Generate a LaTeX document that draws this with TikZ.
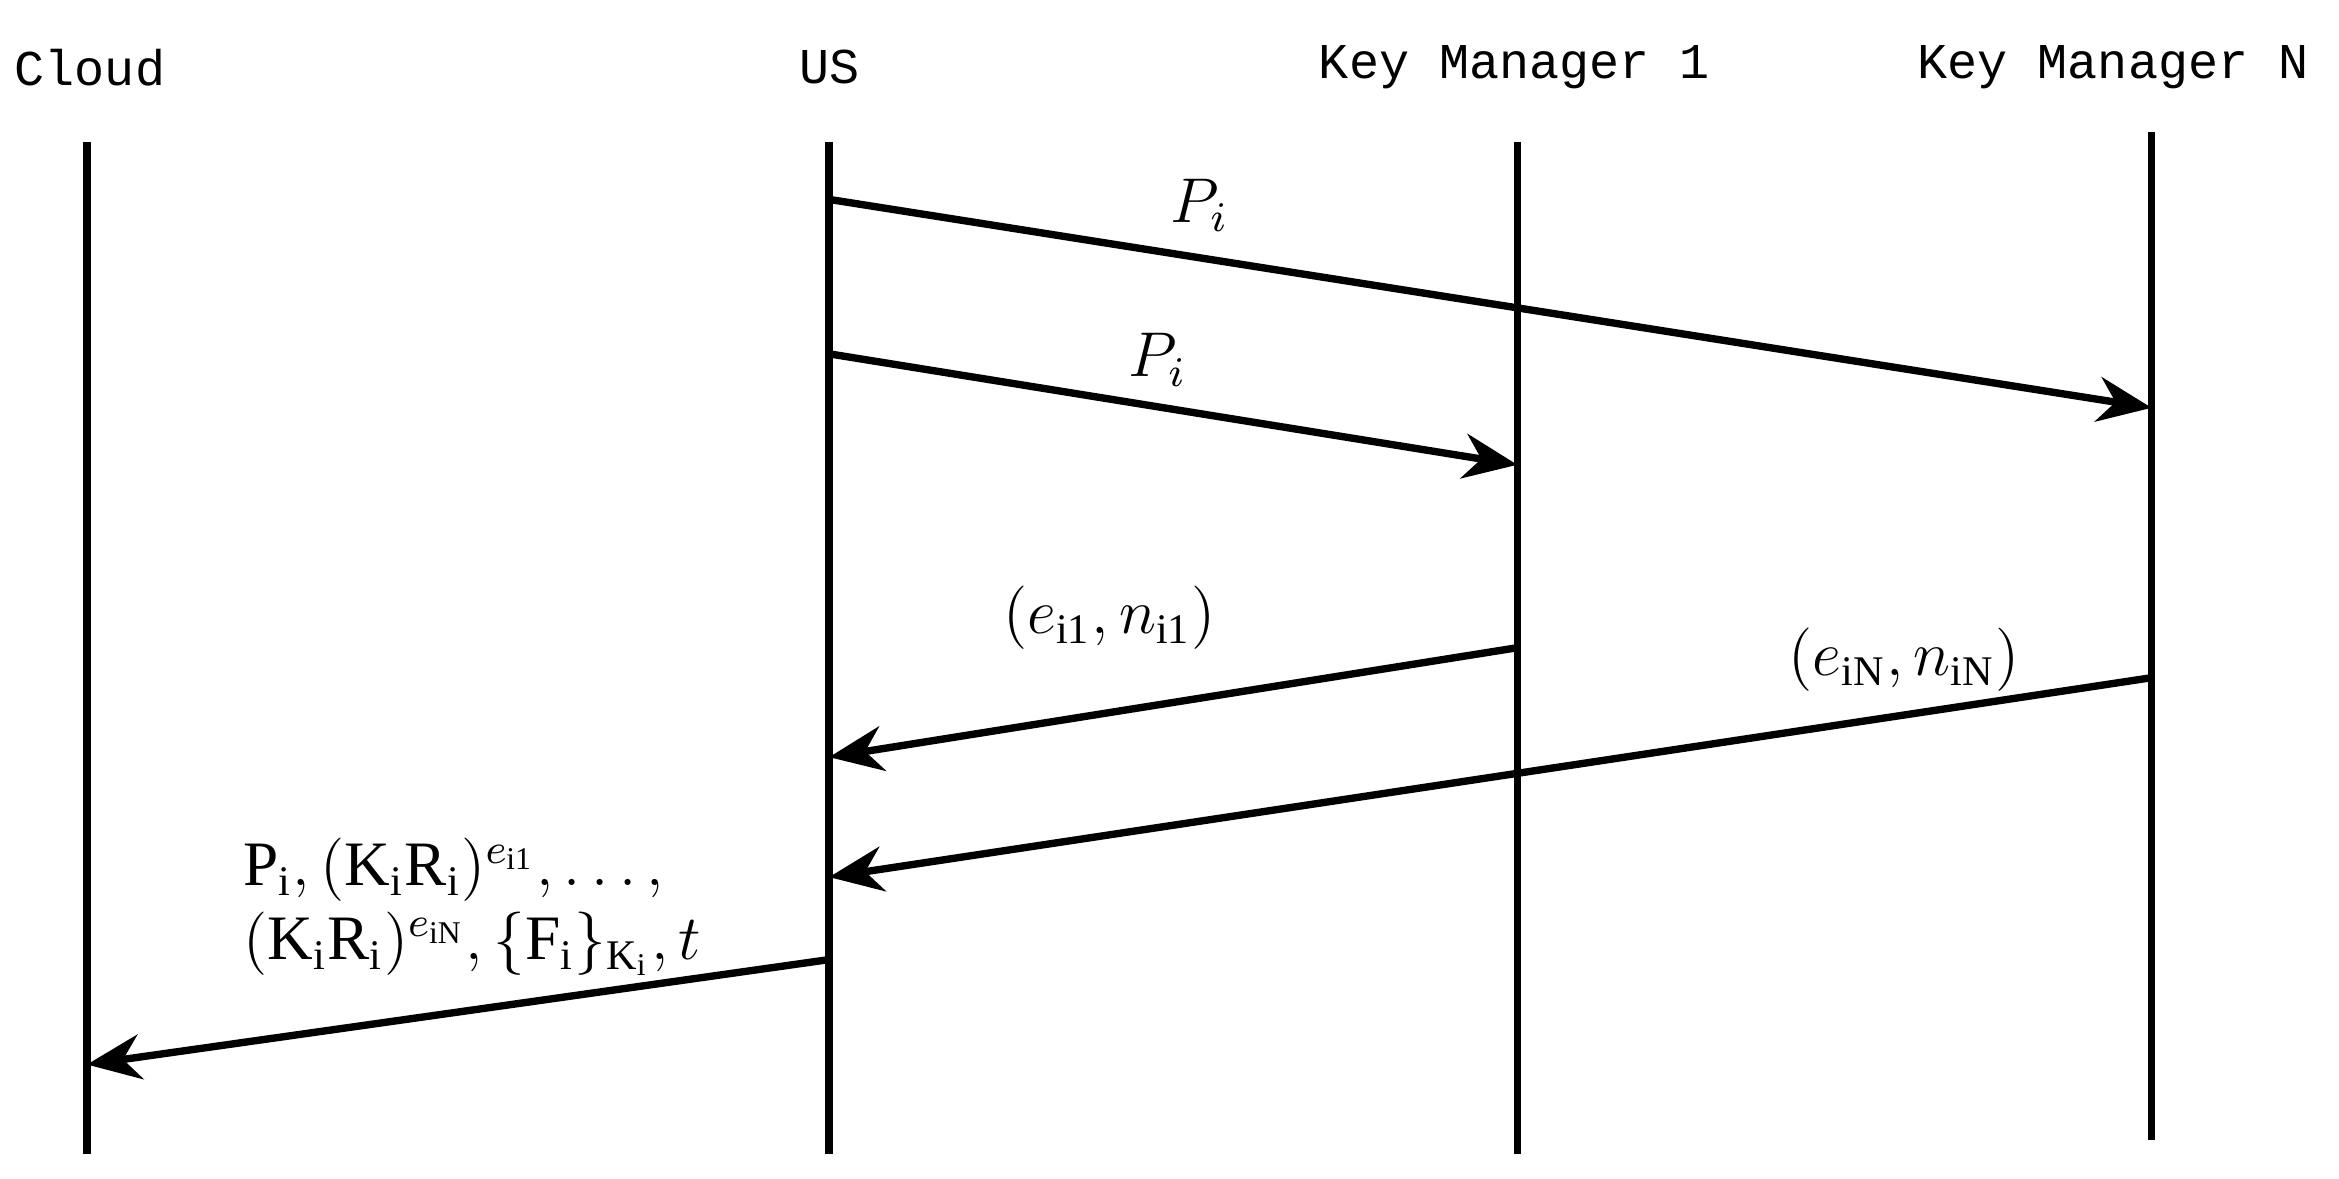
\documentclass[tikz,border=0pt]{standalone}
\usepackage{fontspec}
\setmainfont{Liberation Serif}
\newfontfamily\lbl{Liberation Mono}
\usetikzlibrary{arrows.meta}
\begin{document}
\begin{tikzpicture}[x=0.01cm,y=-0.01cm,
  life/.style={line width=1.4pt},
  msg/.style={line width=1.4pt,-{Stealth[length=0.36cm,width=0.3cm]}},
  hdr/.style={font=\lbl\fontsize{9.5pt}{11pt}\selectfont},
  ml/.style={font=\fontsize{12pt}{14pt}\selectfont}]
\useasboundingbox (0,0) rectangle (1560,786);
\node[hdr] (hc) at (60,45) {Cloud};
\node[hdr] (hu) at (553,45) {US};
\node[hdr] (h1) at (1010,45) {Key Manager 1};
\node[hdr,anchor=east] (hn) at (1552,45) {Key Manager N};
\coordinate (ct) at (58,95); \coordinate (cb) at (58,770);
\coordinate (ut) at (553,95); \coordinate (ub) at (553,770);
\coordinate (at) at (1012,95); \coordinate (ab) at (1012,770);
\coordinate (nt) at (1435,88); \coordinate (nb) at (1435,760);
\draw[life] (ct)--(cb); \draw[life] (ut)--(ub); \draw[life] (at)--(ab); \draw[life] (nt)--(nb);
\coordinate (u1) at (553,133); \coordinate (n1) at (1435,272);
\coordinate (u2) at (553,236); \coordinate (a2) at (1012,310);
\coordinate (a3) at (1012,432); \coordinate (u3) at (553,505);
\coordinate (n4) at (1435,452); \coordinate (u4) at (553,585);
\coordinate (u5) at (553,640); \coordinate (c5) at (58,710);
\draw[msg] (u1)--(n1); \draw[msg] (u2)--(a2); \draw[msg] (a3)--(u3);
\draw[msg] (n4)--(u4); \draw[msg] (u5)--(c5);
\node[ml] (l1) at (800,137) {$P_i$};
\node[ml] (l2) at (772,240) {$P_i$};
\node[ml] (l3) at (740,412) {$(e_{\mathrm{i1}},n_{\mathrm{i1}})$};
\node[ml] (l4) at (1270,440) {$(e_{\mathrm{iN}},n_{\mathrm{iN}})$};
\node[ml,align=left] (l5) at (315,605) {$\mathrm{P_i},(\mathrm{K_iR_i})^{e_{\mathrm{i1}}},\ldots,$\\[0pt]$(\mathrm{K_iR_i})^{e_{\mathrm{iN}}},\{\mathrm{F_i}\}_{\mathrm{K_i}},t$};
\end{tikzpicture}
\end{document}
